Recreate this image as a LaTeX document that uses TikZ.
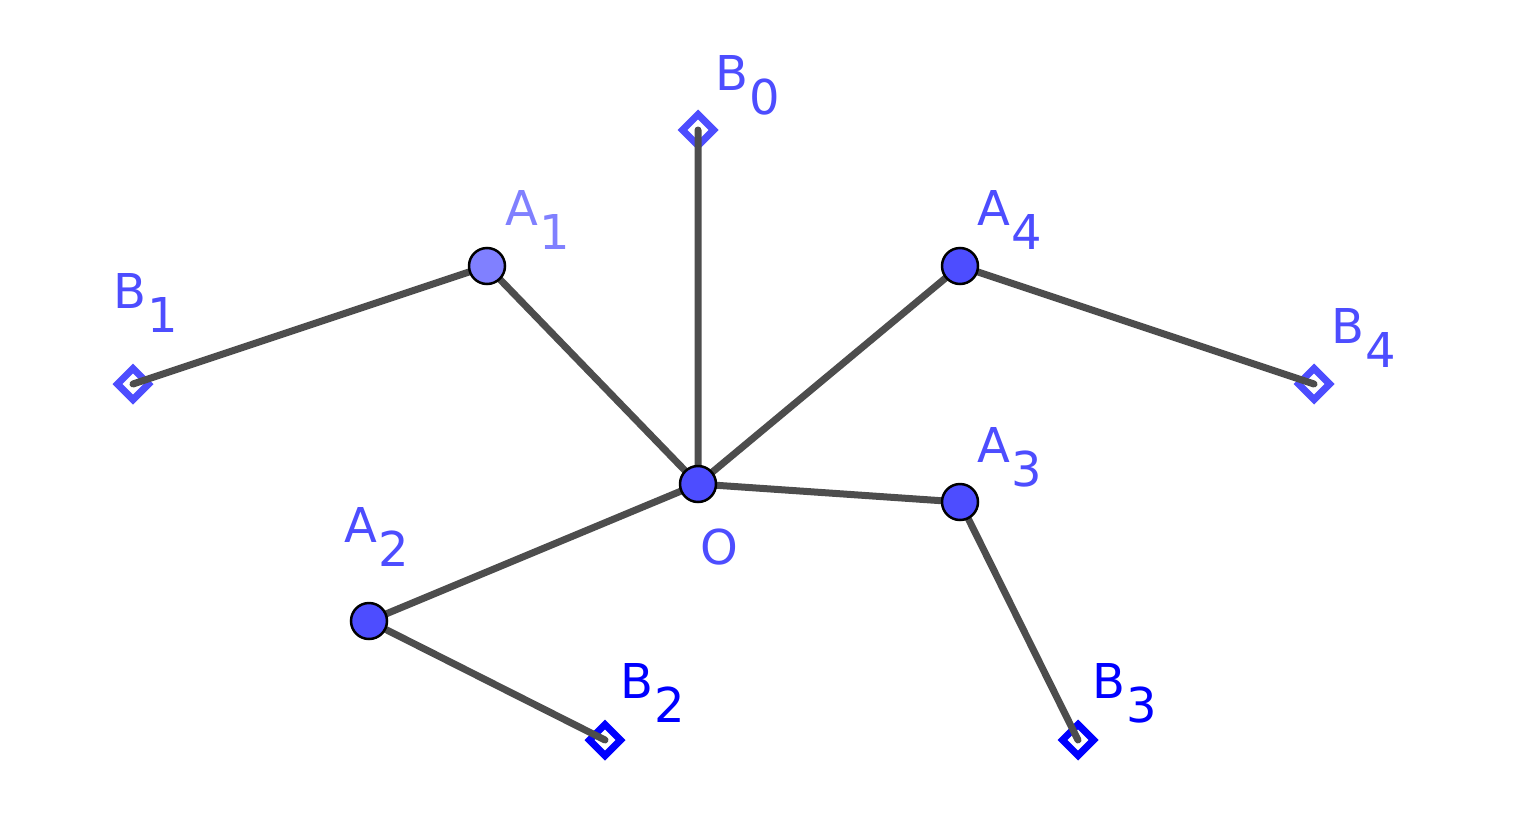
\documentclass[tikz,border=0pt]{standalone}
\usepackage{fontspec}
\setmainfont{DejaVu Sans}
\definecolor{ptc}{HTML}{4D4DFF}
\definecolor{ptl}{HTML}{8080FF}
\definecolor{ptb}{HTML}{0000FF}
\definecolor{seg}{HTML}{4D4D4D}
\tikzset{
 seg/.style={draw=seg,line width=7pt,line cap=round},
 pt/.style={circle,draw=black,line width=2.5pt,minimum size=36pt,inner sep=0pt},
 dia/.style={diamond,draw,line width=7pt,minimum size=34pt,inner sep=0pt,fill=white},
 lab/.style={font=\fontsize{48}{50}\selectfont,inner sep=0pt}
}
\newcommand{\lbl}[2]{#1\kern1pt\raisebox{-0.5em}{#2}}
\usetikzlibrary{shapes.geometric}
\begin{document}
\begin{tikzpicture}[x=1pt,y=-1pt]
\useasboundingbox (0,0) rectangle (1536,814);
\coordinate (O) at (698,484);
\coordinate (A1) at (487,266);
\coordinate (A2) at (369,621);
\coordinate (A3) at (960,502);
\coordinate (A4) at (960,266);
\coordinate (B0) at (698,130);
\coordinate (B1) at (133,384);
\coordinate (B2) at (605,740);
\coordinate (B3) at (1078,740);
\coordinate (B4) at (1314,384);
\node[dia,draw=ptc] (d0) at (B0) {};
\node[dia,draw=ptc] (d1) at (B1) {};
\node[dia,draw=ptb] (d2) at (B2) {};
\node[dia,draw=ptb] (d3) at (B3) {};
\node[dia,draw=ptc] (d4) at (B4) {};
\draw[seg] (O)--(B0) (O)--(A1)--(B1) (O)--(A2)--(B2) (O)--(A3)--(B3) (O)--(A4)--(B4);
\node[pt,fill=ptl] (a1) at (A1) {};
\node[pt,fill=ptc] (a2) at (A2) {};
\node[pt,fill=ptc] (a3) at (A3) {};
\node[pt,fill=ptc] (a4) at (A4) {};
\node[pt,fill=ptc] (o) at (O) {};
\node[lab,text=ptc] (lb0) at (748,85) {\lbl{B}{0}};
\node[lab,text=ptl] (la1) at (538,220) {\lbl{A}{1}};
\node[lab,text=ptc] (lb1) at (146,303) {\lbl{B}{1}};
\node[lab,text=ptc] (la4) at (1010,220) {\lbl{A}{4}};
\node[lab,text=ptc] (lb4) at (1364,338) {\lbl{B}{4}};
\node[lab,text=ptc] (la3) at (1010,457) {\lbl{A}{3}};
\node[lab,text=ptc] (lo) at (719,547) {O};
\node[lab,text=ptc] (la2) at (377,537) {\lbl{A}{2}};
\node[lab,text=ptb] (lb2) at (653,693) {\lbl{B}{2}};
\node[lab,text=ptb] (lb3) at (1125,693) {\lbl{B}{3}};
\end{tikzpicture}
\end{document}
